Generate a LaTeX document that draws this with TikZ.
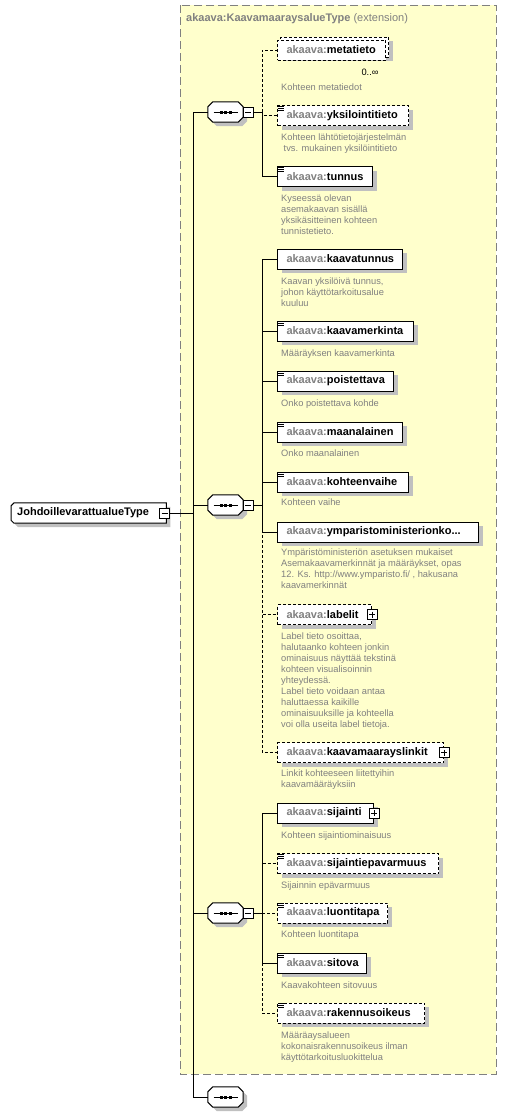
\documentclass[tikz,border=0pt]{standalone}
\usepackage{fontspec}
\setmainfont{Liberation Sans}
\usetikzlibrary{shadows}
\pgfdeclarelayer{background}
\pgfsetlayers{background,main}
\definecolor{boxyellow}{RGB}{255,255,204}
\definecolor{framegrey}{RGB}{128,128,128}
\definecolor{shadowgrey}{RGB}{192,192,192}
\definecolor{nsgrey}{RGB}{128,128,128}
\newcommand{\akns}{\textcolor{nsgrey}{akaava:}}
\tikzset{
  shd/.style={drop shadow={shadow xshift=4pt,shadow yshift=-4pt,fill=shadowgrey,opacity=1}},
  box/.style={draw,fill=white,line width=1pt,minimum height=20pt,inner ysep=0pt,inner xsep=9pt,
    anchor=west,align=flush left,font=\fontsize{11}{13}\selectfont\bfseries},
  elem/.style={box,shd},
  opt/.style={dash pattern=on 3pt off 2pt},
  conn/.style={line width=1pt},
  doc/.style={anchor=north west,inner sep=0pt,align=left,text=nsgrey,font=\fontsize{9.3}{11}\selectfont},
  seq/.style={minimum width=35pt,minimum height=20pt,inner sep=0pt},
  minus/.style={draw,fill=white,line width=1pt,minimum size=10pt,inner sep=0pt,
    path picture={\draw[black] ([xshift=2pt]path picture bounding box.west) -- ([xshift=-2pt]path picture bounding box.east);}},
  plus/.style={minus,
    path picture={\draw[black] ([xshift=2pt]path picture bounding box.west) -- ([xshift=-2pt]path picture bounding box.east);
      \draw[black] ([yshift=-2pt]path picture bounding box.north) -- ([yshift=2pt]path picture bounding box.south);}},
}

\begin{document}
\begin{tikzpicture}[x=1pt,y=-1pt]
\useasboundingbox (0,0) rectangle (507,1117);

% extension frame
\draw[framegrey,line width=1pt,dash pattern=on 8pt off 4pt,fill=boxyellow] (180,5) rectangle (496,1074);
\node[anchor=west,inner sep=0pt,text=nsgrey,font=\fontsize{11}{13}\selectfont] (title) at (186,19)
  {\textbf{akaava:KaavamaaraysalueType} (extension)};

% root
\node[minimum height=20pt,inner ysep=0pt,inner xsep=6pt,text width=143pt,align=flush left,
  anchor=west,font=\fontsize{11}{13}\selectfont\bfseries] (R) at (11,513) {JohdoillevarattualueType};
\begin{pgfonlayer}{background}
\draw[line width=1pt,fill=white,shd] ([yshift=-3pt]R.north west) -- ([xshift=3pt]R.north west) -- (R.north east)
  -- (R.south east) -- ([xshift=3pt]R.south west) -- ([yshift=3pt]R.south west) -- cycle;
\end{pgfonlayer}
\node[minus] (Rm) at (164.5,513) {};
\coordinate (T) at (193,513);

% sequences
\node[seq] (S1) at (225.5,112) {};
\node[seq] (S2) at (225.5,505) {};
\node[seq] (S3) at (225.5,913) {};
\node[seq] (S4) at (225.5,1097) {};
\foreach \s in {S1,S2,S3,S4} {
  \draw[line width=1pt,fill=white,shd] ([xshift=5pt]\s.north west) -- ([xshift=-5pt]\s.north east) -- ([yshift=-5pt]\s.north east)
    -- ([yshift=5pt]\s.south east) -- ([xshift=-5pt]\s.south east) -- ([xshift=5pt]\s.south west)
    -- ([yshift=5pt]\s.south west) -- ([yshift=-5pt]\s.north west) -- cycle;
  \draw[line width=1pt] ([xshift=-12pt]\s.center) -- ([xshift=12pt]\s.center);
  \foreach \dx in {-4.5,0,4.5}
    \fill ([xshift={(\dx-1.5)*1pt},yshift=-1.5pt]\s.center) rectangle ++(3pt,3pt);
}
\node[minus] (S1m) at (248,112) {};
\node[minus] (S2m) at (248,505) {};
\node[minus] (S3m) at (248,913) {};
\coordinate (B1) at (262,112);
\coordinate (B2) at (262,505);
\coordinate (B3) at (262,913);

% elements
\node[elem,opt,text width=90pt] (E1b) at (280,47) {};
\node[box,opt,text width=90pt] (E1) at (277,50) {\akns metatieto};
\node[elem,opt,text width=113pt] (E2) at (277,115.5) {\akns yksilointitieto};
\node[elem,text width=77pt] (E3) at (277,176.5) {\akns tunnus};
\node[elem,text width=107pt] (E4) at (277,259) {\akns kaavatunnus};
\node[elem,text width=118pt] (E5) at (277,331) {\akns kaavamerkinta};
\node[elem,text width=98pt] (E6) at (277,381) {\akns poistettava};
\node[elem,text width=107pt] (E7) at (277,432) {\akns maanalainen};
\node[elem,text width=113pt] (E8) at (277,482) {\akns kohteenvaihe};
\node[elem,text width=183pt] (E9) at (277,532) {\akns ymparistoministerionko...};
\node[elem,opt,text width=76pt] (E10) at (277,614.5) {\akns labelit};
\node[elem,opt,text width=148pt] (E11) at (277,752.5) {\akns kaavamaarayslinkit};
\node[elem,text width=78pt] (E12) at (277,813) {\akns sijainti};
\node[elem,opt,text width=143pt] (E13) at (277,863.5) {\akns sijaintiepavarmuus};
\node[elem,opt,text width=92pt] (E14) at (277,913) {\akns luontitapa};
\node[elem,text width=71pt] (E15) at (277,963) {\akns sitova};
\node[elem,opt,text width=129pt] (E16) at (277,1013) {\akns rakennusoikeus};

\node[plus] (P10) at (E10.east) {};
\node[plus] (P11) at (E11.east) {};
\node[plus] (P12) at (E12.east) {};

% simple content marks
\foreach \e in {E2,E3,E5,E6,E7,E8,E13,E14,E15,E16}
  \foreach \k in {1,3,5}
    \draw[line width=1pt] ([shift={(1pt,-\k pt)}]\e.north west) -- ++(6pt,0pt);

\node[inner sep=0pt,font=\fontsize{9.3}{11}\selectfont] (N1) at (370,72) {0..∞};

% documentation
\node[doc] (D1) at (281,84) {Kohteen metatiedot};
\node[doc] (D2) at (281,134) {Kohteen lähtötietojärjestelmän\\\hspace{2.5pt}tvs. mukainen yksilöintitieto};
\node[doc] (D3) at (281,195) {Kyseessä olevan\\asemakaavan sisällä\\yksikäsitteinen kohteen\\tunnistetieto.};
\node[doc] (D4) at (281,278) {Kaavan yksilöivä tunnus,\\johon käyttötarkoitusalue\\kuuluu};
\node[doc] (D5) at (281,350) {Määräyksen kaavamerkinta};
\node[doc] (D6) at (281,400) {Onko poistettava kohde};
\node[doc] (D7) at (281,450) {Onko maanalainen};
\node[doc] (D8) at (281,499) {Kohteen vaihe};
\node[doc] (D9) at (281,549) {Ympäristöministeriön asetuksen mukaiset\\Asemakaavamerkinnät ja määräykset, opas\\12. Ks. http://www.ymparisto.fi/ , hakusana\\kaavamerkinnät};
\node[doc] (D10) at (281,633) {Label tieto osoittaa,\\halutaanko kohteen jonkin\\ominaisuus näyttää tekstinä\\kohteen visualisoinnin\\yhteydessä.\\Label tieto voidaan antaa\\haluttaessa kaikille\\ominaisuuksille ja kohteella\\voi olla useita label tietoja.};
\node[doc] (D11) at (281,770) {Linkit kohteeseen liitettyihin\\kaavamääräyksiin};
\node[doc] (D12) at (281,832) {Kohteen sijaintiominaisuus};
\node[doc] (D13) at (281,882) {Sijainnin epävarmuus};
\node[doc] (D14) at (281,931) {Kohteen luontitapa};
\node[doc] (D15) at (281,982) {Kaavakohteen sitovuus};
\node[doc] (D16) at (281,1032) {Määräaysalueen\\kokonaisrakennusoikeus ilman\\käyttötarkoitusluokittelua};

% connectors
\draw[conn] (Rm.east) -- (T);
\draw[conn] (T) |- (S1.west);
\draw[conn] (T) |- (S2.west);
\draw[conn] (T) |- (S3.west);
\draw[conn] (T) |- (S4.west);
\draw[conn] (S1m.east) -- (B1);
\draw[conn] (S2m.east) -- (B2);
\draw[conn] (S3m.east) -- (B3);

\draw[conn,opt] (B1) |- (E1.west);
\draw[conn,opt] (B1) |- (E2.west);
\draw[conn] (B1) |- (E3.west);

\draw[conn,opt] (B2) |- (E10.west);
\draw[conn,opt] (B2) |- (E11.west);
\draw[conn] (B2) |- (E4.west);
\draw[conn] (B2) |- (E5.west);
\draw[conn] (B2) |- (E6.west);
\draw[conn] (B2) |- (E7.west);
\draw[conn] (B2) |- (E8.west);
\draw[conn] (B2) |- (E9.west);

\draw[conn,opt] (B3) |- (E13.west);
\draw[conn,opt] (B3) |- (E14.west);
\draw[conn,opt] (B3) |- (E16.west);
\draw[conn] (B3) |- (E12.west);
\draw[conn] (B3) |- (E15.west);
\end{tikzpicture}
\end{document}
